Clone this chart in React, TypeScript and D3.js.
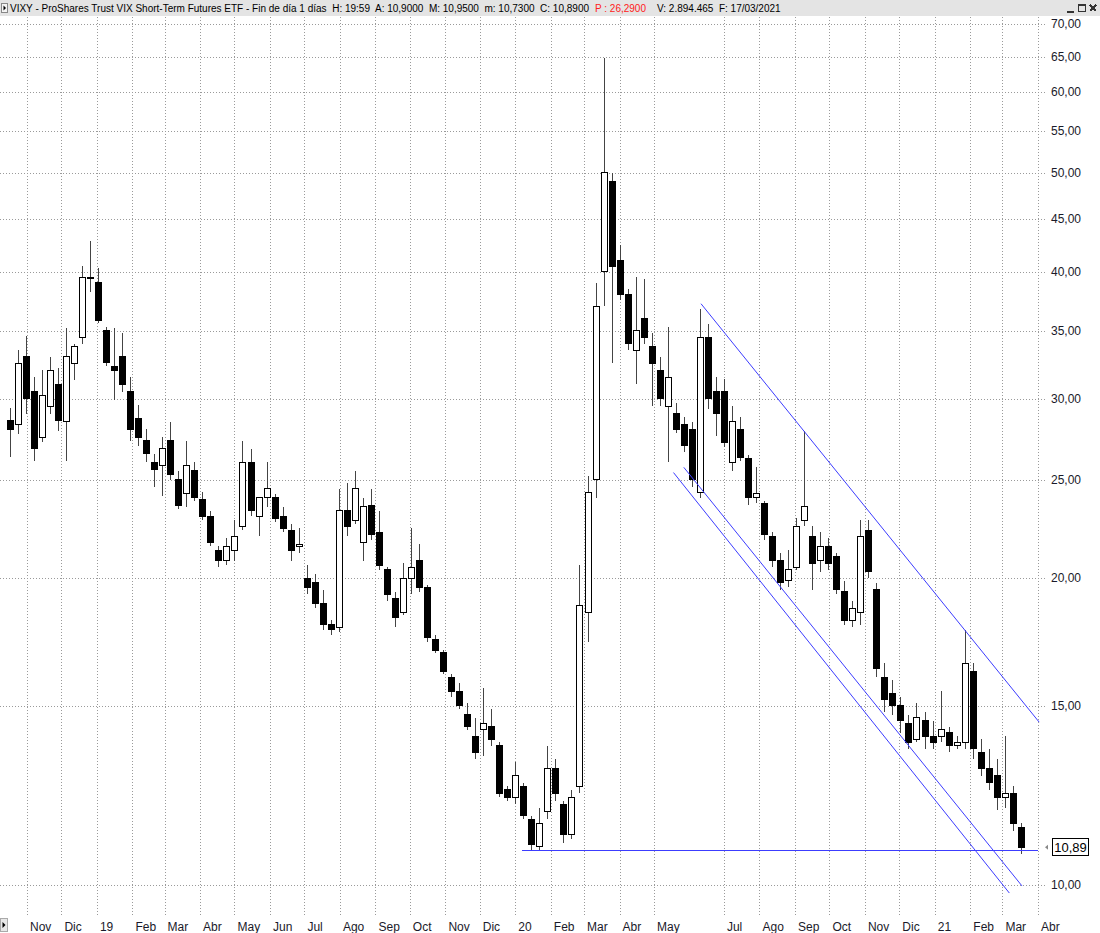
import React from "react";
import * as d3 from "d3";

const WIDTH = 1100;
const HEIGHT = 933;

// Weekly sessions (Monday of each week), Oct 2018 - Mar 2021
const weekStarts = d3.timeMonday.range(new Date(2018, 9, 15), new Date(2021, 2, 16));

const opens = [
  28.6, 28.3, 33.0, 30.5, 27.5, 29.5, 31.0, 28.5, 32.5, 34.5, 39.5, 39.0, 35.0, 32.3, 33.0, 30.5, 28.7, 27.3, 26.0, 25.8,
  27.3, 25.0, 24.2, 25.5, 23.9, 23.0, 21.3, 20.8, 21.3, 22.5, 26.0, 23.0, 24.0, 24.0, 23.0, 22.3, 21.5, 20.0, 19.8, 18.9,
  18.0, 17.9, 23.3, 22.8, 21.7, 23.6, 22.2, 20.4, 19.1, 18.5, 20.0, 20.8, 19.6, 17.4, 16.9, 16.0, 15.5, 14.7, 14.0, 14.2,
  14.3, 13.7, 12.4, 12.2, 12.5, 11.6, 10.9, 11.8, 13.0, 12.0, 11.2, 12.5, 18.5, 25.0, 40.0, 49.0, 41.0, 38.0, 33.5, 36.0,
  33.8, 32.0, 29.5, 29.0, 28.3, 28.0, 24.3, 34.5, 30.5, 30.5, 26.0, 28.0, 26.2, 24.0, 23.7, 22.0, 20.8, 19.9, 20.5, 22.8,
  22.0, 20.8, 21.5, 21.0, 19.4, 18.2, 18.5, 22.3, 19.5, 16.0, 15.4, 15.0, 14.4, 13.9, 14.5, 14.0, 14.0, 14.1, 13.7, 13.8,
  16.2, 13.5, 13.0, 12.8, 12.2, 12.3, 11.4,
];
const highs = [
  29.4, 33.5, 34.6, 31.5, 32.0, 33.0, 32.2, 35.2, 34.0, 40.5, 42.9, 40.3, 35.3, 35.2, 34.8, 31.5, 29.6, 28.0, 26.5, 27.5,
  28.5, 25.5, 27.3, 26.0, 24.3, 23.3, 21.5, 21.9, 22.8, 27.3, 26.8, 24.0, 26.0, 24.2, 23.5, 22.6, 22.4, 20.6, 20.2, 19.5,
  18.2, 24.5, 24.8, 25.5, 24.0, 24.5, 23.3, 20.5, 19.4, 20.7, 22.4, 21.6, 19.7, 17.6, 17.0, 16.1, 15.8, 15.1, 14.6, 15.6,
  14.9, 13.8, 12.5, 13.2, 12.6, 11.7, 11.9, 13.7, 13.3, 12.1, 12.4, 20.6, 25.2, 39.0, 64.8, 50.0, 42.5, 38.5, 39.5, 39.3,
  34.8, 33.0, 35.3, 29.7, 28.8, 28.5, 36.8, 35.5, 31.5, 31.4, 29.5, 28.8, 26.4, 25.7, 23.8, 22.2, 21.2, 21.3, 22.9, 27.9,
  22.5, 22.2, 21.9, 21.2, 19.9, 19.0, 22.8, 22.8, 19.8, 16.5, 15.9, 15.3, 14.7, 15.1, 14.8, 14.5, 15.5, 14.3, 14.0, 17.8,
  16.5, 13.9, 13.6, 13.3, 14.0, 12.5, 11.5,
];
const lows = [
  26.3, 27.7, 29.0, 26.1, 27.2, 29.0, 27.9, 26.1, 31.3, 34.0, 38.2, 35.6, 32.3, 29.9, 30.5, 27.3, 27.0, 26.0, 24.6, 24.1,
  25.0, 23.4, 23.5, 23.8, 22.8, 21.5, 20.5, 20.6, 20.8, 22.3, 23.0, 22.0, 23.5, 22.7, 22.2, 20.8, 21.2, 19.3, 18.7, 17.8,
  17.6, 17.7, 22.0, 22.6, 20.8, 21.8, 20.4, 19.0, 17.9, 18.4, 19.3, 19.4, 17.3, 16.9, 16.1, 15.3, 14.9, 14.2, 13.3, 13.4,
  13.7, 12.2, 12.1, 12.0, 11.6, 10.8, 10.8, 11.6, 12.1, 11.0, 11.1, 12.3, 17.3, 24.0, 37.0, 32.5, 37.5, 33.5, 31.0, 34.0,
  29.5, 29.5, 26.0, 27.8, 26.6, 24.6, 24.0, 29.3, 27.6, 26.9, 25.5, 26.1, 23.6, 23.7, 21.8, 20.5, 19.5, 19.6, 20.4, 22.5,
  19.5, 20.3, 20.4, 19.3, 18.0, 17.9, 18.0, 20.0, 16.0, 14.8, 14.7, 14.1, 13.6, 13.8, 13.6, 13.6, 13.8, 13.5, 13.6, 13.6,
  13.3, 12.8, 12.4, 11.85, 11.9, 11.3, 10.73,
];
const closes = [
  28.0, 32.5, 30.0, 26.8, 30.2, 32.0, 28.6, 33.0, 33.8, 39.5, 39.5, 35.8, 32.6, 32.0, 31.0, 28.0, 27.5, 26.5, 25.6, 26.8,
  25.3, 23.6, 25.8, 24.0, 23.0, 21.7, 20.8, 21.5, 22.0, 26.0, 23.3, 24.0, 24.5, 22.9, 22.4, 21.3, 21.6, 19.6, 18.9, 18.0,
  17.8, 23.3, 22.5, 24.5, 23.5, 22.1, 20.6, 19.3, 18.3, 20.0, 20.5, 19.6, 17.5, 17.0, 16.2, 15.5, 15.0, 14.3, 13.5, 14.4,
  13.9, 12.3, 12.2, 12.8, 11.7, 10.95, 11.5, 13.0, 12.3, 11.2, 12.2, 18.8, 24.3, 37.0, 50.0, 40.5, 38.0, 34.0, 35.0, 34.5,
  32.5, 30.0, 31.5, 28.0, 27.0, 25.0, 34.5, 30.0, 29.0, 27.2, 28.5, 26.3, 24.0, 24.2, 22.1, 20.8, 19.8, 20.4, 22.5, 23.5,
  20.7, 21.5, 20.7, 19.5, 18.2, 18.7, 22.0, 20.3, 16.3, 15.2, 15.0, 14.5, 13.8, 14.6, 14.0, 13.8, 14.2, 13.7, 13.8, 16.5,
  13.6, 13.0, 12.6, 12.2, 12.3, 11.5, 10.89,
];

const yTicks = [10, 15, 20, 25, 30, 35, 40, 45, 50, 55, 60, 65, 70];
const monthNames = ["Ene", "Feb", "Mar", "Abr", "May", "Jun", "Jul", "Ago", "Sep", "Oct", "Nov", "Dic"];
const hiddenMonths = ["2020-06"];

// Drawn trend lines: [date, price] end points
const trendLines: [string, number][][] = [
  [["2020-06-11", 37.2], ["2021-04-02", 14.45]],
  [["2020-05-18", 25.4], ["2021-03-07", 9.82]],
  [["2020-05-27", 25.7], ["2021-03-18", 9.98]],
];
const supportLine: [string, number][] = [["2020-01-07", 10.8], ["2021-04-01", 10.8]];
const lastClose = 10.89;

// header pieces: text, colour, left x
const headerParts: [string, string, number][] = [
  ["VIXY - ProShares Trust VIX Short-Term Futures ETF - Fin de día 1 días  H: 19:59  A: 10,9000  M: 10,9500  m: 10,7300  C: 10,8900", "#000", 10],
  ["P : 26,2900", "#ff2020", 595],
  ["V: 2.894.465  F: 17/03/2021", "#000", 657],
];

const parse = d3.timeParse("%Y-%m-%d");
const esLocale = d3.formatLocale({ decimal: ",", thousands: ".", grouping: [3], currency: ["", "€"] });
const fmt2 = esLocale.format(".2f");

const PLOT = { left: 0, right: 1038, top: 17, bottom: 915 };
const FONT = "'Liberation Sans', Arial, sans-serif";

export default function App() {
  const x = d3.scaleTime().domain([new Date(2018, 10, 1), new Date(2021, 3, 1)]).range([27, PLOT.right]);
  const y = d3.scaleLog().domain([10, 70]).range([885, 24]);

  const candles = weekStarts.map((d, i) => ({
    cx: Math.round(x(d3.timeDay.offset(d, 2))) + 0.5,
    o: opens[i],
    h: highs[i],
    l: lows[i],
    c: closes[i],
  }));

  const months = d3
    .timeMonth.range(new Date(2018, 10, 1), new Date(2021, 3, 2))
    .filter((m) => !hiddenMonths.includes(d3.timeFormat("%Y-%m")(m)));

  const line = d3
    .line<[string, number]>()
    .x((p) => x(parse(p[0]) as Date))
    .y((p) => y(p[1]));

  const bodyW = 6;
  const gridColor = "#9a9a9a";

  return (
    <div style={{ position: "fixed", left: 0, top: 0 }}>
      <svg width={WIDTH} height={HEIGHT} style={{ display: "block", background: "#fff" }}>
        <rect x={0} y={0} width={WIDTH} height={HEIGHT} fill="#fff" />
        {/* header */}
        <rect x={0} y={0} width={WIDTH} height={16} fill="#e4e4e4" />
        <rect x={1.5} y={3.5} width={6} height={9} fill="#f4f4f4" stroke="#888" />
        <path d="M3.5,5.5 L6,8 L3.5,10.5 Z" fill="#000" />
        {headerParts.map((p, i) => (
          <text
            key={i}
            x={p[2]}
            y={12}
            fill={p[1]}
            fontFamily={FONT}
            fontSize={10}
            style={{ whiteSpace: "pre" }}
          >
            {p[0]}
          </text>
        ))}
        {/* window buttons */}
        <g stroke="#333" fill="none" shapeRendering="crispEdges">
          <line x1={1067} x2={1074} y1={11.5} y2={11.5} strokeWidth={2} />
          <rect x={1078.5} y={4.5} width={7} height={7} />
          <line x1={1078.5} x2={1085.5} y1={5.5} y2={5.5} />
          <line x1={1090} x2={1096} y1={5} y2={11} strokeWidth={1.5} />
          <line x1={1096} x2={1090} y1={5} y2={11} strokeWidth={1.5} />
        </g>

        {/* grid */}
        <g stroke={gridColor} strokeDasharray="1,2" shapeRendering="crispEdges">
          {yTicks.map((t) => (
            <line key={t} x1={PLOT.left} x2={1046} y1={Math.round(y(t)) + 0.5} y2={Math.round(y(t)) + 0.5} />
          ))}
          {months.map((m, i) => (
            <line
              key={i}
              x1={Math.round(x(m)) + 0.5}
              x2={Math.round(x(m)) + 0.5}
              y1={PLOT.top}
              y2={PLOT.bottom}
            />
          ))}
          <line x1={PLOT.right + 0.5} x2={PLOT.right + 0.5} y1={PLOT.top} y2={PLOT.bottom} />
        </g>

        {/* y labels */}
        <g fontFamily={FONT} fontSize={12} fill="#1a1a2a">
          {yTicks.map((t) => (
            <text key={t} x={1051} y={y(t) + 4}>
              {fmt2(t)}
            </text>
          ))}
        </g>

        {/* x labels */}
        <g fontFamily={FONT} fontSize={12} fill="#1a1a2a">
          {months.map((m, i) => (
            <text key={i} x={x(m) + 3} y={931}>
              {m.getMonth() === 0 ? d3.timeFormat("%y")(m) : monthNames[m.getMonth()]}
            </text>
          ))}
        </g>
        <rect x={0.5} y={918.5} width={7} height={13} fill="#e8e8e8" stroke="#aaa" />
        <path d="M2.5,922 L5.5,925 L2.5,928 Z" fill="#000" />

        {/* candles */}
        <g shapeRendering="crispEdges">
          {candles.map((k, i) => {
            const up = k.c >= k.o;
            const top = y(Math.max(k.o, k.c));
            const bot = y(Math.min(k.o, k.c));
            return (
              <g key={i}>
                <line x1={k.cx} x2={k.cx} y1={y(k.h)} y2={y(k.l)} stroke="#444" />
                <rect
                  x={k.cx - bodyW / 2}
                  y={top}
                  width={bodyW}
                  height={Math.max(1, bot - top)}
                  fill={up ? "#fff" : "#000"}
                  stroke="#000"
                  strokeWidth={1}
                />
              </g>
            );
          })}
        </g>

        {/* trend lines */}
        <g stroke="#3c3cff" strokeWidth={1} fill="none">
          {trendLines.map((tl, i) => (
            <path key={i} d={line(tl) || ""} />
          ))}
          <path d={line(supportLine) || ""} shapeRendering="crispEdges" />
        </g>

        {/* last price marker */}
        <path d={`M${1045},${y(lastClose)} l3,-2.5 v5 Z`} fill="#888" />
        <rect x={1052.5} y={Math.round(y(lastClose)) - 8.5} width={36} height={17} fill="#fff" stroke="#000" />
        <text
          x={1070.5}
          y={y(lastClose) + 4.5}
          textAnchor="middle"
          fontFamily={FONT}
          fontSize={13}
          fill="#000"
        >
          {fmt2(lastClose)}
        </text>
      </svg>
    </div>
  );
}
